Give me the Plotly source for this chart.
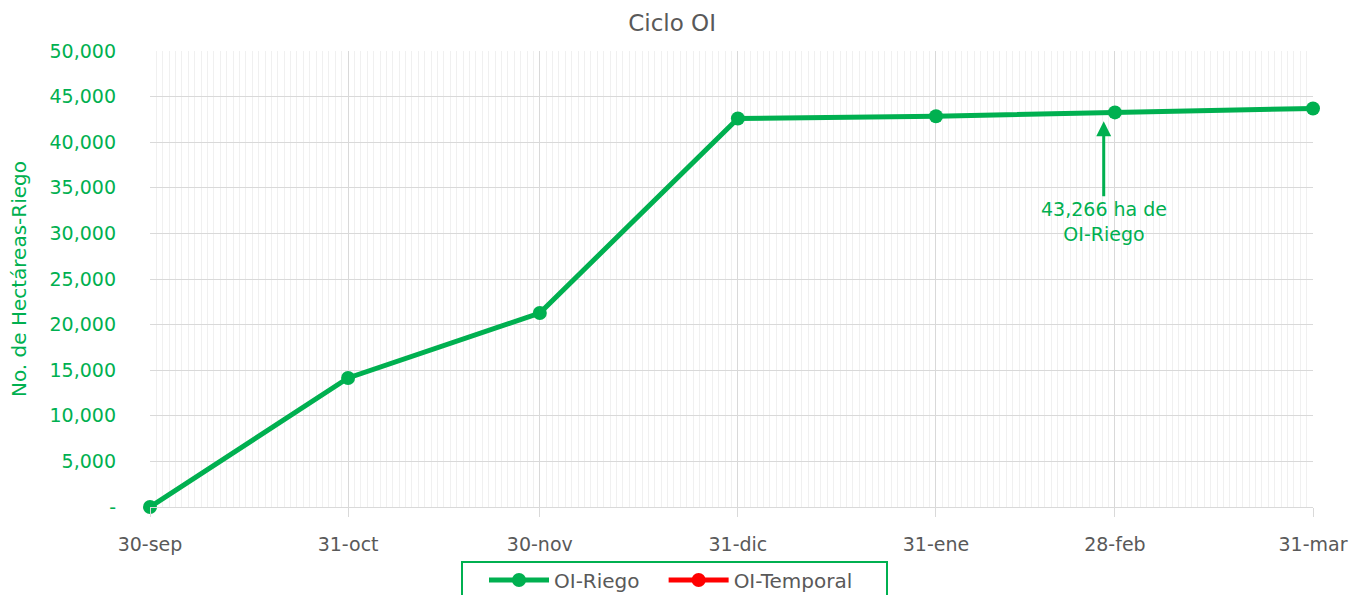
import plotly.graph_objects as go

fechas = ["2022-09-30", "2022-10-31", "2022-11-30", "2022-12-31", "2023-01-31", "2023-02-28", "2023-03-31"]
etiquetas_x = ["30-sep", "31-oct", "30-nov", "31-dic", "31-ene", "28-feb", "31-mar"]
oi_riego = [0, 14150, 21270, 42600, 42850, 43266, 43700]
oi_temporal = [None] * len(fechas)
y_ticks = [0, 5000, 10000, 15000, 20000, 25000, 30000, 35000, 40000, 45000, 50000]
y_labels = ["-", "5,000", "10,000", "15,000", "20,000", "25,000", "30,000", "35,000", "40,000", "45,000", "50,000"]

GREEN = "#00B050"
GRAY = "#595959"
FONT = "DejaVu Sans"

fig = go.Figure()
fig.add_trace(go.Scatter(x=fechas, y=oi_riego, mode="lines+markers", name="OI-Riego\u00a0\u00a0\u00a0",
                         line=dict(color=GREEN, width=5), marker=dict(color=GREEN, size=14),
                         cliponaxis=False))
fig.add_trace(go.Scatter(x=fechas, y=oi_temporal, mode="lines+markers", name="OI-Temporal",
                         line=dict(color="#FF0000", width=5), marker=dict(color="#FF0000", size=14),
                         cliponaxis=False))

fig.add_annotation(x="2023-02-26 06:00", y=42300, ax=0, ay=100, text="43,266 ha de<br>OI-Riego",
                   showarrow=True, arrowhead=2, arrowsize=1, arrowwidth=3, arrowcolor=GREEN,
                   font=dict(family=FONT, size=19, color=GREEN))

# legend frame
fig.add_shape(type="rect", xref="paper", yref="paper",
              x0=(462 - 150) / 1163, x1=(887 - 150) / 1163,
              y0=-(600 - 507) / 456, y1=-(562 - 507) / 456,
              line=dict(color=GREEN, width=2), fillcolor="rgba(0,0,0,0)", layer="above")

fig.update_layout(
    width=1355, height=595,
    paper_bgcolor="white", plot_bgcolor="white",
    margin=dict(l=150, r=42, t=51, b=88, autoexpand=False),
    title=dict(text="Ciclo OI", x=0.496, xanchor="center", y=0.962, yanchor="middle",
               font=dict(family=FONT, size=23, color=GRAY)),
    font=dict(family=FONT, color=GRAY),
    legend=dict(orientation="h", x=(484 - 150) / 1163, xanchor="left", yref="container", y=0.058, yanchor="top",
                borderwidth=0, font=dict(family=FONT, size=20, color=GRAY),
                itemwidth=60, bgcolor="rgba(0,0,0,0)"),
    showlegend=True,
)
fig.update_xaxes(
    type="date", range=["2022-09-30", "2023-03-31"],
    tickvals=fechas, ticktext=etiquetas_x,
    tickfont=dict(family=FONT, size=19, color=GRAY),
    showgrid=True, gridcolor="#D9D9D9", gridwidth=1,
    ticks="outside", ticklen=9, tickcolor="#D9D9D9", ticklabelstandoff=11,
    minor=dict(dtick=86400000, tick0="2022-09-30", showgrid=True, gridcolor="#F0F0F0", gridwidth=1),
    showline=True, linecolor="#D9D9D9", zeroline=False, automargin=False,
)
fig.update_yaxes(
    range=[0, 50000], tickvals=y_ticks, ticktext=y_labels,
    tickfont=dict(family=FONT, size=19, color=GREEN),
    showgrid=True, gridcolor="#D9D9D9", gridwidth=1, zeroline=False,
    ticks="", ticklabelstandoff=33, automargin=False,
    title=dict(text="No. de Hectáreas-Riego", font=dict(family=FONT, size=20, color=GREEN), standoff=17),
)

fig.write_html("out.html", config={"displayModeBar": False},
               post_script="document.body.style.margin='0';")
